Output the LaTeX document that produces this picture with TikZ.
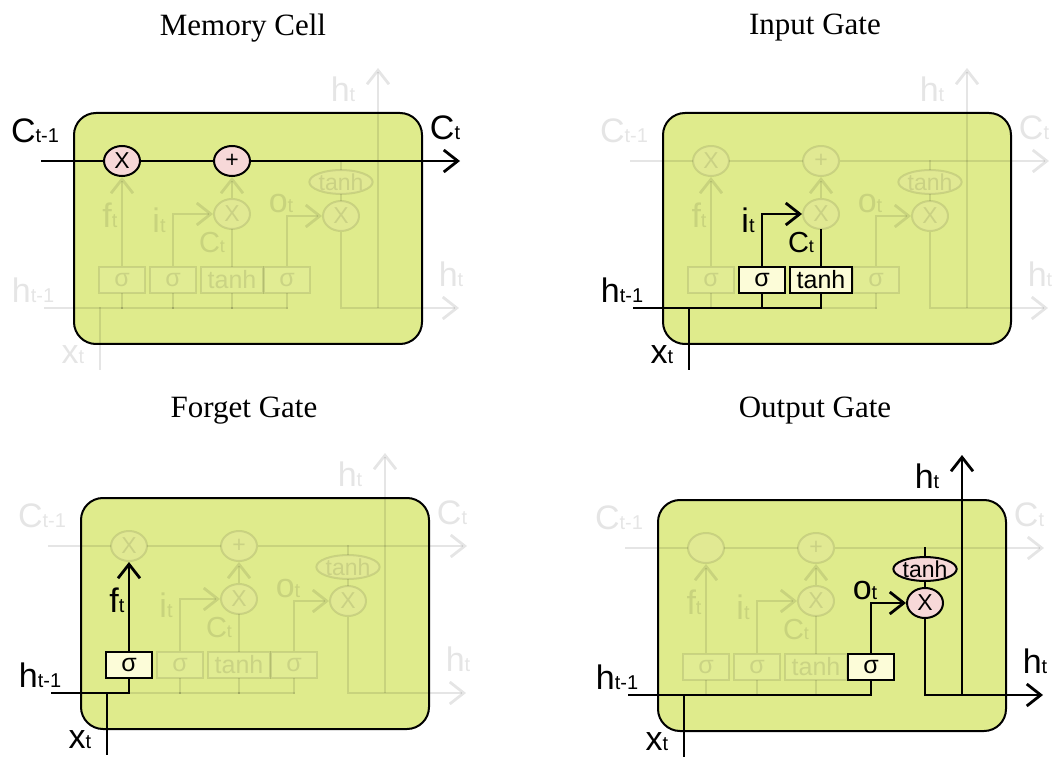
\documentclass[tikz,border=0pt]{standalone}
\usepackage{fontspec}
\setmainfont{Liberation Serif}
\setsansfont{Liberation Sans}
\usetikzlibrary{arrows.meta,shapes.geometric}
\definecolor{cellgreen}{RGB}{223,235,140}
\definecolor{oppink}{RGB}{247,216,216}
\definecolor{gatecream}{RGB}{252,252,216}
\newcommand{\vlabel}[2]{{\fontsize{17}{17}\selectfont #1}{\fontsize{10}{10}\selectfont #2}}
\newcommand{\slabel}[2]{{\fontsize{14.5}{14.5}\selectfont #1}{\fontsize{9}{9}\selectfont #2}}

% parts of the cell, faded unless a panel turns them on
\tikzset{
  gC/.style={opacity=0.1}, gIn/.style={opacity=0.1},
  gAB/.style={opacity=0.1}, gBC/.style={opacity=0.1}, gCD/.style={opacity=0.1},
  gF/.style={opacity=0.1}, gI/.style={opacity=0.1},
  gM/.style={opacity=0.1}, gO/.style={opacity=0.1}
}

\newcommand{\lstmcell}[1]{%
  \node[cellbox] (box) at (0,0) {};
  % gates and pointwise ops
  \node[gatebox, gF] (sa) at (49,168) {σ};
  \node[gatebox, gI] (sb) at (100,168) {σ};
  \node[gatebox, gI, minimum width=31pt] (tb) at (159,168) {tanh};
  \node[gatebox, gO] (sc) at (214,168) {σ};
  \node[opcirc, gC] (cf) at (49,49) {#1};
  \node[opcirc, gC] (cp) at (159,49) {+};
  \node[opcirc, gM] (ci) at (159,102) {X};
  \node[opcirc, gO] (co) at (268,104) {X};
  \node[opell, gO] (th) at (268,70) {tanh};
  \coordinate (cin) at (-31,49);
  \coordinate (cout) at (387,49);
  \coordinate (hin) at (-28,196);
  \coordinate (hout) at (386,196);
  \coordinate (hup) at (305,196);
  \coordinate (htop) at (305,-44);
  \coordinate (xin) at (27,257);
  \coordinate (xjn) at (27,196);
  % cell state
  \draw[wire, gC] (cin) -- (cf);
  \draw[wire, gC] (cf) -- (cp);
  \draw[wire, arr, gC] (cp) -- (cout);
  % inputs
  \draw[wire, gIn] (hin) -- (sa.south |- hin);
  \draw[wire, gAB] (sa.south |- hin) -- (sb.south |- hin);
  \draw[wire, gBC] (sb.south |- hin) -- (tb.south |- hin);
  \draw[wire, gCD] (tb.south |- hin) -- (sc.south |- hin);
  \draw[wire, gIn] (xin) -- (xjn);
  \draw[wire, gF] (sa.south |- hin) -- (sa.south);
  \draw[wire, gI] (sb.south |- hin) -- (sb.south);
  \draw[wire, gI] (tb.south |- hin) -- (tb.south);
  \draw[wire, gO] (sc.south |- hin) -- (sc.south);
  % gate outputs
  \draw[wire, arr, gF] (sa.north) -- (cf.south);
  \draw[wire, arr, gI] (sb.north) |- (ci.west);
  \draw[wire, gI] (tb.north) -- (ci.south);
  \draw[wire, arr, gM] (ci) -- (cp);
  \draw[wire, arr, gO] (sc.north) |- (co.west);
  \draw[wire, gO] (co) -- (th);
  \draw[wire, gO] (th.north) -- (th.north |- cin);
  \draw[wire, arr, gO] (co.south) |- (hout);
  \draw[wire, arr, gO] (hup) -- (htop);
  % labels
  \node[lbl, gC] (lc0) at (-38,19) {\vlabel{C}{t-1}};
  \node[lbl, gC] (lc1) at (372,16) {\vlabel{C}{t}};
  \node[lbl, gIn] (lh0) at (-40,178) {\vlabel{h}{t-1}};
  \node[lbl, gIn] (lx) at (0,243) {\vlabel{x}{t}};
  \node[lbl, gF] (lf) at (37,103) {\vlabel{f}{t}};
  \node[lbl, gI] (li) at (86,108) {\vlabel{i}{t}};
  \node[lbl, gI] (lct) at (139,131) {\slabel{C}{t}};
  \node[lbl, gO] (lo) at (208,92) {\vlabel{o}{t}};
  \node[lbl, gO] (lht) at (270,-23) {\vlabel{h}{t}};
  \node[lbl, gO] (lhr) at (378,162) {\vlabel{h}{t}};
}

\begin{document}
\begin{tikzpicture}[
  x=0.5pt, y=-0.5pt,
  cellbox/.style={draw=black, line width=1pt, fill=cellgreen, rounded corners=11pt,
                  minimum width=174pt, minimum height=115.5pt, anchor=north west},
  gatebox/.style={rectangle, draw=black, line width=1pt, fill=gatecream,
                  minimum width=23pt, minimum height=13pt, inner sep=0pt,
                  font=\sffamily\fontsize{12.5}{13}\selectfont},
  opcirc/.style={ellipse, draw=black, line width=1pt, fill=oppink,
                 minimum width=18pt, minimum height=15pt, inner sep=0pt,
                 font=\sffamily\fontsize{11.5}{12}\selectfont},
  opell/.style={ellipse, draw=black, line width=1pt, fill=oppink,
                minimum width=29pt, minimum height=11.5pt, inner sep=0pt,
                font=\sffamily\fontsize{11.5}{12}\selectfont},
  wire/.style={draw=black, line width=1.4pt, line cap=rect},
  arr/.style={line cap=butt, -{Straight Barb[length=7pt,width=11pt]}},
  lbl/.style={inner sep=0pt, font=\sffamily},
  title/.style={font=\fontsize{15.5}{15.5}\selectfont}
]
\useasboundingbox (0,0) rectangle (1053,758);

\node[title] (t1) at (243,28)  {Memory Cell};
\node[title] (t2) at (815,28)  {Input Gate};
\node[title] (t3) at (244,411) {Forget Gate};
\node[title] (t4) at (815,411) {Output Gate};

\begin{scope}[shift={(73,112)}, name prefix=mc-, gC/.style={}]
  \lstmcell{X}
\end{scope}

\begin{scope}[shift={(662,112)}, name prefix=ig-, gIn/.style={}, gAB/.style={},
              gBC/.style={}, gI/.style={}]
  \lstmcell{X}
\end{scope}

\begin{scope}[shift={(80,497)}, name prefix=fg-, gIn/.style={}, gF/.style={}]
  \lstmcell{X}
\end{scope}

\begin{scope}[shift={(657,499)}, name prefix=og-, gIn/.style={}, gAB/.style={},
              gBC/.style={}, gCD/.style={}, gO/.style={}]
  \lstmcell{}
\end{scope}
\end{tikzpicture}
\end{document}
